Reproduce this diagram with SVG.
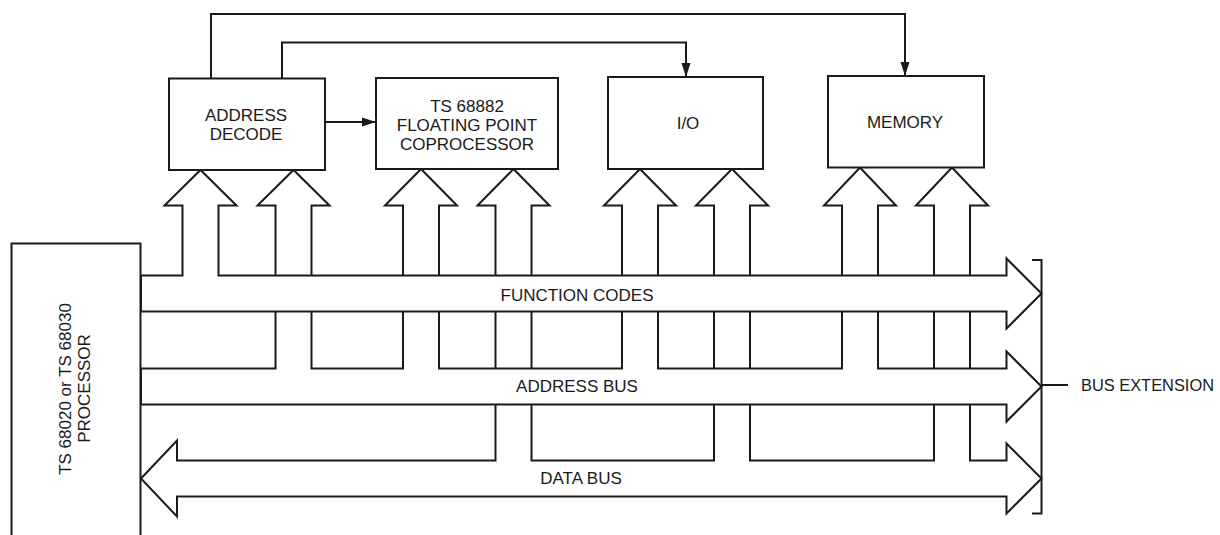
<svg xmlns="http://www.w3.org/2000/svg" width="1220" height="535" viewBox="0 0 1220 535">
<style>
  .box { fill: #fff; stroke: #1a1a1a; stroke-width: 2; }
  .bus { fill: #fff; stroke: #1a1a1a; stroke-width: 2; stroke-linejoin: miter; }
  .wire { fill: none; stroke: #1a1a1a; stroke-width: 2; }
  .lbl { font-family: "Liberation Sans", Arial, sans-serif; font-size: 17px; fill: #1a1a1a; text-anchor: middle; }
</style>
<defs>
  <marker id="ah" markerUnits="userSpaceOnUse" markerWidth="14" markerHeight="10" refX="14" refY="5" orient="auto">
    <path d="M0,0.5 L14,5 L0,9.5 Z" fill="#1a1a1a"/>
  </marker>
</defs>
<rect width="1220" height="535" fill="#fff"/>

<g id="processor">
  <rect class="box" x="11.5" y="243.5" width="129" height="310"/>
  <text class="lbl" transform="translate(71,389) rotate(-90)">TS 68020 or TS 68030</text>
  <text class="lbl" transform="translate(90,388.5) rotate(-90)">PROCESSOR</text>
</g>

<g id="buses">
  <polygon id="data-bus" class="bus" points="141,478.5 177,440.5 177,460.5 495.5,460.5 495.5,205.5 477.5,205.5 513.5,169 549.5,205.5 531.5,205.5 531.5,460.5 714,460.5 714,205.5 696,205.5 732,169 768,205.5 750,205.5 750,460.5 934,460.5 934,205.5 916,205.5 952,167.5 988,205.5 970,205.5 970,460.5 1006.5,460.5 1006.5,443.5 1041.5,478.5 1006.5,513.5 1006.5,496.5 177,496.5 177,516.5"/>
  <polygon id="address-bus" class="bus" points="141,368.5 275.5,368.5 275.5,205.5 257.5,205.5 293.5,170 329.5,205.5 311.5,205.5 311.5,368.5 403,368.5 403,205.5 385,205.5 421,169 457,205.5 439,205.5 439,368.5 622,368.5 622,205.5 604,205.5 640,169 676,205.5 658,205.5 658,368.5 842,368.5 842,205.5 824,205.5 860,167.5 896,205.5 878,205.5 878,368.5 1006.5,368.5 1006.5,351.5 1041.5,386.5 1006.5,421.5 1006.5,404.5 141,404.5"/>
  <polygon id="function-codes" class="bus" points="141,275.5 182.5,275.5 182.5,205.5 164.5,205.5 200.5,170 236.5,205.5 218.5,205.5 218.5,275.5 1006.5,275.5 1006.5,258.5 1041.5,293.5 1006.5,328.5 1006.5,311.5 141,311.5"/>
  <text class="lbl" x="577" y="301">FUNCTION CODES</text>
  <text class="lbl" x="577" y="392">ADDRESS BUS</text>
  <text class="lbl" x="581" y="484">DATA BUS</text>
</g>

<g id="address-decode">
  <rect class="box" x="169" y="78.5" width="156" height="91.5"/>
  <text class="lbl" x="246" y="121">ADDRESS</text>
  <text class="lbl" x="246" y="140">DECODE</text>
</g>

<g id="fpu">
  <rect class="box" x="376" y="78" width="182" height="91"/>
  <text class="lbl" x="467" y="112">TS 68882</text>
  <text class="lbl" x="467" y="131">FLOATING POINT</text>
  <text class="lbl" x="467" y="150">COPROCESSOR</text>
</g>

<g id="io">
  <rect class="box" x="608" y="77" width="155" height="92"/>
  <text class="lbl" x="688" y="129">I/O</text>
</g>

<g id="memory">
  <rect class="box" x="828" y="76" width="156" height="91.5"/>
  <text class="lbl" x="905" y="128">MEMORY</text>
</g>

<g id="bus-extension">
  <path class="wire" d="M1032,260 H1041.5 V513.5 H1032"/>
  <path class="wire" d="M1041.5,385 H1068"/>
  <text class="lbl" x="1081" y="390.5" style="text-anchor:start;font-size:16.4px">BUS EXTENSION</text>
</g>

<g id="connectors">
  <path class="wire" d="M211,78.5 V14 H905 V76" marker-end="url(#ah)"/>
  <path class="wire" d="M282,78.5 V42.5 H686 V77" marker-end="url(#ah)"/>
  <path class="wire" d="M325,122 H376" marker-end="url(#ah)"/>
</g>
</svg>
